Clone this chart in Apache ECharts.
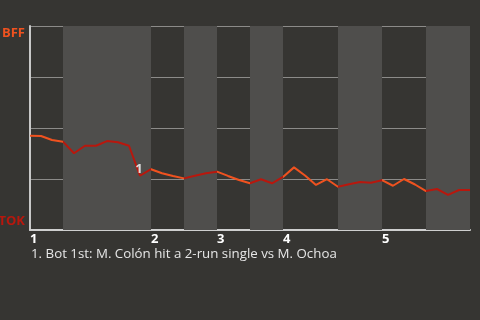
<!DOCTYPE html>
<html>
<head>
<meta charset="utf-8">
<script src="https://cdn.jsdelivr.net/npm/echarts@6/dist/echarts.min.js"></script>
<style>
  html, body { margin: 0; padding: 0; background: #363532; }
  #chart { width: 480px; height: 320px; }
</style>
</head>
<body>
<div id="chart"></div>
<script>
// Plate appearance index -> BFF win probability (%)
const winProb = [46.2, 46.1, 44.1, 43.3, 37.6, 41.3, 41.3, 43.6, 43.0, 41.3,
                 26.6, 29.8, 27.8, 26.5, 25.3, 26.6, 27.8, 28.6, 26.5, 24.5,
                 22.9, 24.9, 22.9, 26.0, 30.7, 26.7, 22.1, 24.9, 21.2, 22.4,
                 23.5, 23.2, 24.4, 21.7, 25.0, 22.3, 19.1, 20.1, 17.2, 19.6, 19.6];
// half-inning boundaries in plate appearances (top1, bot1, top2, ...)
const halfInningBounds = [0, 3, 11, 14, 17, 20, 23, 28, 32, 36, 40];
const inningLabels = ['1', '2', '3', '4', '5'];
const teamTop = 'BFF';
const teamBottom = 'TOK';
const eventIndex = [10];
const eventMarks = ['1'];
const eventNotes = ['1. Bot 1st: M. Colón hit a 2-run single vs M. Ochoa'];

const ORANGE = '#f0521f';
const RED = '#b8170d';
const BAND = '#4f4e4c';
const FONT = 'Open Sans';

const lineData = winProb.map((v, i) => [i, v]);
const inningStarts = halfInningBounds.filter((_, i) => i % 2 === 0).slice(0, inningLabels.length);

const pieces = [];
for (let i = 0; i < halfInningBounds.length - 1; i++) {
  const p = { gte: halfInningBounds[i], color: i % 2 === 0 ? ORANGE : RED };
  if (i < halfInningBounds.length - 2) p.lt = halfInningBounds[i + 1];
  else p.lte = halfInningBounds[i + 1];
  pieces.push(p);
}
const bands = [];
for (let i = 1; i < halfInningBounds.length - 1; i += 2) {
  bands.push([{ xAxis: halfInningBounds[i] }, { xAxis: halfInningBounds[i + 1] }]);
}

const chart = echarts.init(document.getElementById('chart'), null, { renderer: 'canvas' });
chart.setOption({
  backgroundColor: '#363532',
  animation: false,
  title: {
    text: eventNotes.join('\n'),
    left: 31, top: 248, padding: 0,
    textStyle: { color: '#e6e6e6', fontSize: 13.3, fontWeight: 'normal', fontFamily: FONT }
  },
  grid: { left: 30, right: 10, top: 26, bottom: 90, containLabel: false, outerBoundsMode: 'none' },
  visualMap: { show: false, type: 'piecewise', dimension: 0, seriesIndex: 0, pieces: pieces },
  xAxis: {
    type: 'value', min: 0, max: halfInningBounds[halfInningBounds.length - 1], interval: 1,
    axisLine: { show: true, lineStyle: { color: '#cfcfcf', width: 2 } },
    axisTick: { show: false },
    splitLine: { show: false },
    axisLabel: {
      color: '#ffffff', fontWeight: 'bold', fontSize: 13, fontFamily: FONT,
      align: 'left', margin: 3,
      formatter: v => { const k = inningStarts.indexOf(v); return k >= 0 ? inningLabels[k] : ''; }
    }
  },
  yAxis: {
    type: 'value', min: 0, max: 100, interval: 25,
    axisLine: { show: true, lineStyle: { color: '#c8c8c8', width: 2 } },
    axisTick: { show: false },
    splitLine: { show: true, lineStyle: { color: '#8c8b89', width: 1 } },
    axisLabel: {
      margin: 5, fontFamily: FONT,
      formatter: v => v === 100 ? '{t|' + teamTop + '}' : (v === 0 ? '{b|' + teamBottom + '}' : ''),
      rich: {
        t: { color: ORANGE, fontWeight: 'bold', fontSize: 13, fontFamily: FONT, padding: [14, 0, 0, 0] },
        b: { color: RED, fontWeight: 'bold', fontSize: 13, fontFamily: FONT, padding: [0, 0, 18, 0] }
      }
    }
  },
  series: [
    {
      type: 'line', data: lineData, showSymbol: false, z: 3,
      lineStyle: { width: 2 },
      markArea: { silent: true, itemStyle: { color: BAND }, data: bands }
    },
    {
      type: 'scatter', z: 4,
      data: eventIndex.map((k, i) => ({ value: [k, winProb[k]], name: eventMarks[i] })),
      symbolSize: 1, itemStyle: { color: 'rgba(0,0,0,0)' },
      label: { show: true, formatter: p => p.name, position: 'inside', offset: [-1, -6],
               color: '#ffffff', fontWeight: 'bold', fontSize: 13, fontFamily: FONT }
    }
  ]
});
</script>
</body>
</html>
